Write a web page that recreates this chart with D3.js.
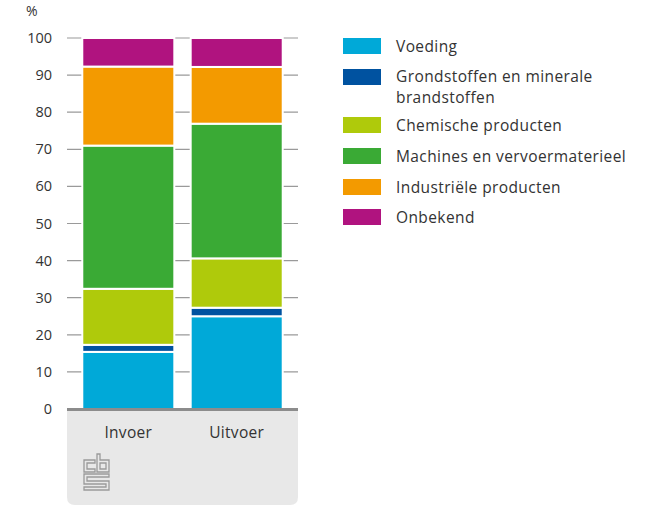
<!DOCTYPE html>
<html>
<head>
<meta charset="utf-8">
<script src="https://cdn.jsdelivr.net/npm/d3@7"></script>
<style>
  body { margin: 0; background: #fff; }
  text { font-family: "Open Sans", sans-serif; fill: #333; }
</style>
</head>
<body>
<div id="chart"></div>
<script>
const categories = ['Invoer', 'Uitvoer'];
const seriesNames = ['Voeding', 'Grondstoffen en minerale brandstoffen', 'Chemische producten',
  'Machines en vervoermaterieel', 'Industriële producten', 'Onbekend'];
const voeding = [15.4, 25.0];
const grondstoffen = [1.9, 2.3];
const chemisch = [15.1, 13.3];
const machines = [38.6, 36.3];
const industrieel = [21.3, 15.3];
const onbekend = [7.7, 7.8];
const yTicks = [0, 10, 20, 30, 40, 50, 60, 70, 80, 90, 100];
const colors = ['#00a9d8', '#0052a0', '#afca0b', '#3aaa35', '#f39a00', '#b0137f'];

const width = 650, height = 506;
const svg = d3.select('#chart').append('svg')
  .attr('width', width).attr('height', height);

const x = d3.scaleBand().domain(categories).range([67, 298])
  .paddingInner(0.151).paddingOuter(0.141);
const y = d3.scaleLinear().domain([0, 100]).range([409, 38]);

// rows for the stack
const rows = categories.map((c, i) => ({
  cat: c,
  [seriesNames[0]]: voeding[i],
  [seriesNames[1]]: grondstoffen[i],
  [seriesNames[2]]: chemisch[i],
  [seriesNames[3]]: machines[i],
  [seriesNames[4]]: industrieel[i],
  [seriesNames[5]]: onbekend[i]
}));
const stack = d3.stack().keys(seriesNames)(rows);

// bottom grey panel
const px0 = 67, px1 = 298, py0 = 409, py1 = 505, r = 8;
svg.append('path')
  .attr('d', `M${px0},${py0}H${px1}V${py1 - r}Q${px1},${py1} ${px1 - r},${py1}H${px0 + r}Q${px0},${py1} ${px0},${py1 - r}Z`)
  .attr('fill', '#e8e8e8');

// gridlines
svg.append('g').selectAll('line').data(yTicks.filter(d => d > 0)).join('line')
  .attr('x1', px0).attr('x2', px1)
  .attr('y1', d => y(d)).attr('y2', d => y(d))
  .attr('stroke', '#9a9a9a').attr('stroke-width', 1.2);

// y labels
svg.append('g').selectAll('text').data(yTicks).join('text')
  .attr('x', 52).attr('y', d => y(d)).attr('dy', '0.35em')
  .attr('text-anchor', 'end').attr('font-size', 14.5)
  .text(d => d);
svg.append('text').attr('x', 26).attr('y', 16).attr('font-size', 14).text('%');

// bars
svg.append('g').selectAll('g').data(stack).join('g')
  .attr('fill', (d, i) => colors[i])
  .selectAll('rect').data(d => d).join('rect')
  .attr('x', d => x(d.data.cat))
  .attr('width', x.bandwidth())
  .attr('y', d => y(d[1]))
  .attr('height', d => y(d[0]) - y(d[1]))
  .attr('stroke', '#fff').attr('stroke-width', 2);

// baseline
svg.append('line').attr('x1', px0).attr('x2', px1).attr('y1', 409.5).attr('y2', 409.5)
  .attr('stroke', '#8c8c8c').attr('stroke-width', 3);

// category labels
svg.append('g').selectAll('text').data(categories).join('text')
  .attr('x', d => x(d) + x.bandwidth() / 2).attr('y', 438)
  .attr('text-anchor', 'middle').attr('font-size', 15.5)
  .attr('letter-spacing', 0.3)
  .text(d => d);

// cbs logo
const logo = svg.append('g').attr('transform', 'translate(84,454)')
  .attr('fill', 'none').attr('stroke', '#9a9a9a').attr('stroke-width', 1.3);
logo.append('path').attr('d', 'M0,6H11V9H3V15H11V18H0Z');
logo.append('path').attr('d', 'M13,0H16V6H25V18H13Z M16,9V15H22V9Z');
logo.append('path').attr('d', 'M0,20H25V23H3V27H25V36H0V33H22V30H0Z');

// legend
const legend = svg.append('g').selectAll('g').data(seriesNames).join('g');
const swatchY = [38, 69, 117, 148, 179, 209];
legend.append('rect')
  .attr('x', 343).attr('y', (d, i) => swatchY[i])
  .attr('width', 38).attr('height', 16)
  .attr('fill', (d, i) => colors[i]);
legend.append('text')
  .attr('x', 396).attr('y', (d, i) => swatchY[i] + 9).attr('dy', '0.35em')
  .attr('font-size', 15.5).attr('letter-spacing', 0.4)
  .each(function(d) {
    const t = d3.select(this);
    if (d === 'Grondstoffen en minerale brandstoffen') {
      t.attr('y', 77);
      t.append('tspan').attr('x', 396).text('Grondstoffen en minerale');
      t.append('tspan').attr('x', 396).attr('dy', 21).text('brandstoffen');
    } else {
      t.text(d);
    }
  });
</script>
</body>
</html>
